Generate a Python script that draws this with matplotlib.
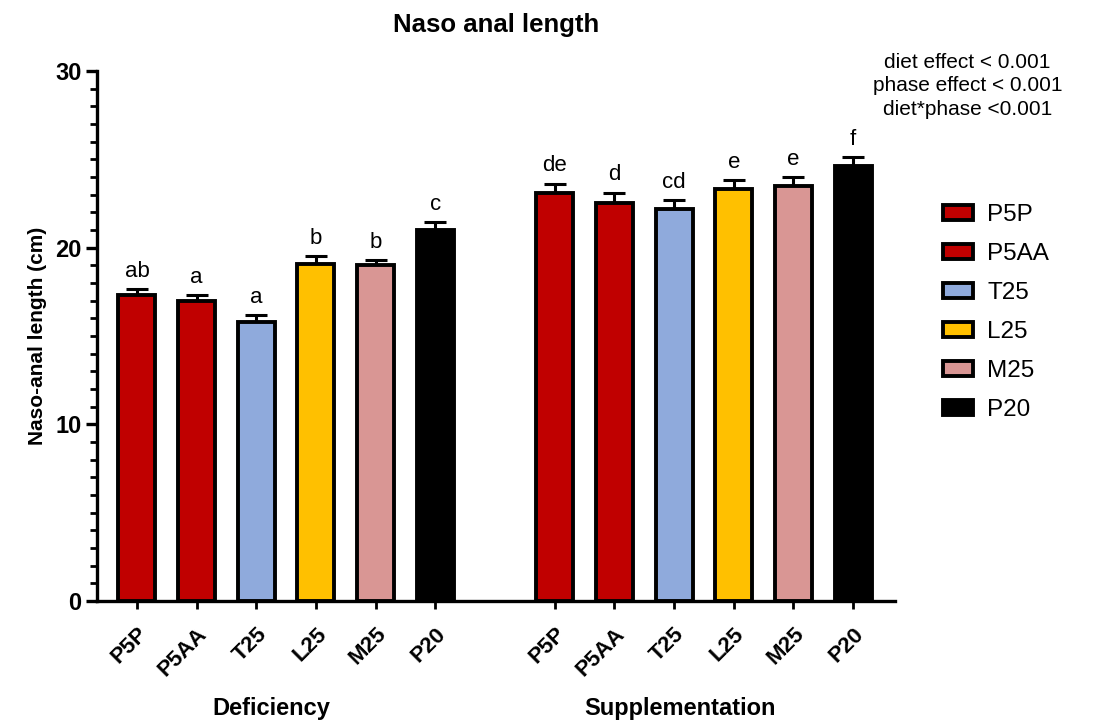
import numpy as np
import matplotlib
matplotlib.use("Agg")
from matplotlib import pyplot as plt
from matplotlib.patches import Patch
from matplotlib.ticker import MultipleLocator

plt.rcParams['font.family'] = ['Liberation Sans', 'DejaVu Sans']

# data
diets = ['P5P', 'P5AA', 'T25', 'L25', 'M25', 'P20']
phases = ['Deficiency', 'Supplementation']
deficiency_mean = [17.3, 17.0, 15.8, 19.1, 19.0, 21.0]
deficiency_sem = [0.38, 0.34, 0.36, 0.43, 0.30, 0.45]
supplementation_mean = [23.1, 22.5, 22.2, 23.3, 23.5, 24.6]
supplementation_sem = [0.53, 0.62, 0.47, 0.51, 0.52, 0.55]
deficiency_letters = ['ab', 'a', 'a', 'b', 'b', 'c']
supplementation_letters = ['de', 'd', 'cd', 'e', 'e', 'f']
stats_text = 'diet effect < 0.001\nphase effect < 0.001\ndiet*phase <0.001'

colors = ['#C00000', '#C00000', '#8FAADC', '#FFC000', '#D99694', '#000000']

fig = plt.figure(figsize=(11.02, 7.22), dpi=100)
ax = fig.add_axes([0.088, 0.1676, 0.724, 0.7341])

x_def = np.arange(len(diets))
x_sup = np.arange(len(diets)) + len(diets) + 1
width = 0.62

for xs, means, sems, letters in [(x_def, deficiency_mean, deficiency_sem, deficiency_letters),
                                  (x_sup, supplementation_mean, supplementation_sem, supplementation_letters)]:
    ax.bar(xs, means, width=width, color=colors, edgecolor='black', linewidth=2.8, zorder=3)
    ax.errorbar(xs, means, yerr=[np.zeros(len(sems)), sems], fmt='none', ecolor='black',
                elinewidth=2.2, capsize=8, capthick=2.2, zorder=2)
    for x, m, s, l in zip(xs, means, sems, letters):
        ax.text(x, m + s + 0.4, l, ha='center', va='bottom', fontsize=16)

ax.set_xlim(-0.67, x_sup[-1] + 0.7)
ax.set_ylim(0, 30)
ax.yaxis.set_major_locator(MultipleLocator(10))
ax.yaxis.set_minor_locator(MultipleLocator(1))

for side in ['top', 'right']:
    ax.spines[side].set_visible(False)
for side in ['left', 'bottom']:
    ax.spines[side].set_linewidth(2.4)

ax.tick_params(axis='y', which='major', length=8, width=2.4, labelsize=17, pad=3)
ax.tick_params(axis='y', which='minor', length=5, width=2.0)
ax.tick_params(axis='x', which='major', length=6, width=2.0, labelsize=16, pad=10)
for lab in ax.get_yticklabels():
    lab.set_fontweight('bold')

ax.set_xticks(np.concatenate([x_def, x_sup]))
ax.set_xticklabels(diets + diets, rotation=45, ha='right', rotation_mode='anchor',
                   fontweight='bold')

ax.set_ylabel('Naso-anal length (cm)', fontsize=15, fontweight='bold', labelpad=6)
ax.set_title('Naso anal length', fontsize=18.5, fontweight='bold', pad=28)

# group labels
ax.text(2.25, -0.202, phases[0], transform=ax.get_xaxis_transform(),
        ha='center', va='center', fontsize=17, fontweight='bold')
ax.text(9.1, -0.202, phases[1], transform=ax.get_xaxis_transform(),
        ha='center', va='center', fontsize=17, fontweight='bold')

fig.text(0.878, 0.881, stats_text, ha='center', va='center', fontsize=15, linespacing=1.32)

handles = [Patch(facecolor=c, edgecolor='black', linewidth=2.8, label=d) for d, c in zip(diets, colors)]
fig.legend(handles=handles, loc='upper left', bbox_to_anchor=(0.8557, 0.717), frameon=False,
           borderpad=0, borderaxespad=0, fontsize=17.5, handlelength=1.23, handleheight=0.55,
           labelspacing=0.7, handletextpad=0.6)

fig.savefig('out.png', dpi=100)
